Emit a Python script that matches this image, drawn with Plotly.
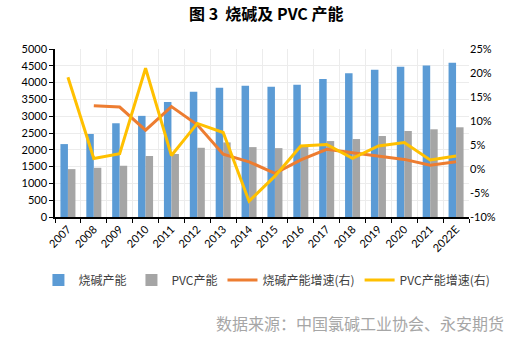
import plotly.graph_objects as go

years = ["2007", "2008", "2009", "2010", "2011", "2012", "2013", "2014",
         "2015", "2016", "2017", "2018", "2019", "2020", "2021", "2022E"]
caustic_cap = [2170, 2470, 2790, 3010, 3420, 3730, 3845, 3905,
               3875, 3935, 4105, 4275, 4380, 4470, 4510, 4590]
pvc_cap = [1425, 1465, 1525, 1815, 1875, 2060, 2220, 2080,
           2050, 2095, 2260, 2320, 2410, 2560, 2610, 2670]
caustic_growth = [None, 13.2, 12.9, 8.1, 13.0, 9.2, 3.1, 1.5,
                  -0.9, 1.9, 4.1, 3.4, 2.7, 2.0, 0.8, 1.5]
pvc_growth = [19.1, 2.2, 3.2, 21.0, 2.8, 9.5, 7.6, -6.7,
              -1.5, 4.8, 5.1, 2.2, 4.8, 5.5, 1.9, 2.7]

left_ticks = list(range(0, 5001, 500))
right_ticks = list(range(-10, 26, 5))

font_main = "Lato, 'Noto Sans CJK SC', sans-serif"
font_cjk = "'Noto Sans CJK SC', sans-serif"

fig = go.Figure()
fig.add_trace(go.Bar(x=years, y=caustic_cap, name="烧碱产能",
                     marker=dict(color="#5b9bd5", line=dict(width=0))))
fig.add_trace(go.Bar(x=years, y=pvc_cap, name="PVC产能",
                     marker=dict(color="#a5a5a5", line=dict(width=0))))
fig.add_trace(go.Scatter(x=years, y=caustic_growth, name="烧碱产能增速(右)",
                         mode="lines", line=dict(color="#ed7d31", width=3),
                         yaxis="y2"))
fig.add_trace(go.Scatter(x=years, y=pvc_growth, name="PVC产能增速(右)",
                         mode="lines", line=dict(color="#ffc000", width=3),
                         yaxis="y2"))

fig.update_layout(
    width=519, height=341,
    margin=dict(l=55, r=50, t=49, b=124),
    paper_bgcolor="white", plot_bgcolor="white",
    barmode="group", bargap=0.42, bargroupgap=0,
    showlegend=True,
    legend=dict(orientation="h", x=-0.04, xanchor="left", y=-0.375, yanchor="middle",
                font=dict(family=font_cjk, size=12, color="#404040"),
                itemwidth=30, tracegroupgap=0, traceorder="normal"),
    title=dict(text="<b>图 3  烧碱及 PVC 产能</b>", x=0.513, xanchor="center",
               y=0.957, yanchor="middle",
               font=dict(family=font_cjk, size=16, color="#000000")),
    xaxis=dict(type="category", tickson="boundaries", showgrid=True,
               gridcolor="#ececec", gridwidth=1,
               showline=True, linecolor="#000000", linewidth=1.5,
               ticks="outside", ticklen=4, tickcolor="#000000",
               tickangle=-45, tickfont=dict(family=font_main, size=11, color="#000000")),
    yaxis=dict(range=[0, 5000], tickvals=left_ticks, showgrid=True,
               gridcolor="#ececec", gridwidth=1, zeroline=False,
               showline=True, linecolor="#000000", linewidth=1.5,
               ticks="outside", ticklen=4, tickcolor="#000000",
               tickfont=dict(family=font_main, size=11, color="#000000")),
    yaxis2=dict(range=[-10, 25], tickvals=right_ticks,
                ticktext=[f"{v}%" for v in right_ticks],
                overlaying="y", side="right", showgrid=False, zeroline=False,
                showline=False, ticks="",
                tickfont=dict(family=font_main, size=11, color="#000000")),
)

fig.add_annotation(text="数据来源：中国氯碱工业协会、永安期货",
                   xref="paper", yref="paper", x=1.09, y=-0.63,
                   xanchor="right", yanchor="middle", showarrow=False,
                   font=dict(family=font_cjk, size=16, color="#a6a6a6"))

fig.write_html("out.html")
